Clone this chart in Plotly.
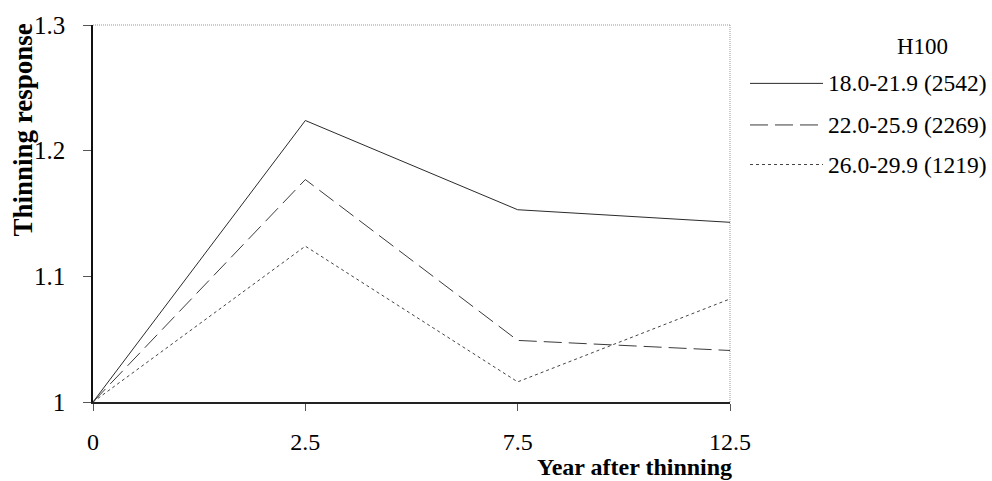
import plotly.graph_objects as go

# Years after thinning (plotted as evenly spaced categories)
years = ["0", "2.5", "7.5", "12.5"]

# Thinning response by dominant height class H100 (number of plots)
series_names = ["18.0-21.9 (2542)", "22.0-25.9 (2269)", "26.0-29.9 (1219)"]
h18_22 = [1.0, 1.224, 1.153, 1.143]
h22_26 = [1.0, 1.177, 1.049, 1.041]
h26_30 = [1.0, 1.124, 1.016, 1.082]

y_ticks = [1.0, 1.1, 1.2, 1.3]
y_tick_labels = ["1", "1.1", "1.2", "1.3"]

series = [h18_22, h22_26, h26_30]
dashes = ["solid", "18px,7px", "3px,3px"]
colors = ["#2a2a2a", "#3a3a3a", "#444444"]

FONT = "Liberation Serif"

fig = go.Figure()
for name, vals, dash, col in zip(series_names, series, dashes, colors):
    fig.add_trace(go.Scatter(
        x=years, y=vals, mode="lines", name=name,
        line=dict(color=col, width=1, dash=dash),
        showlegend=False,
    ))

fig.update_layout(
    width=992, height=481,
    margin=dict(l=93, r=262, t=21, b=79),
    paper_bgcolor="white", plot_bgcolor="white",
    font=dict(family=FONT, size=23, color="black"),
    xaxis=dict(
        type="category", range=[0, 3],
        showgrid=False, zeroline=False,
        showline=True, linecolor="#222", linewidth=1.5,
        ticks="outside", ticklen=7, tickcolor="#555", tickwidth=1,
        ticklabelstandoff=10,
        tickfont=dict(family=FONT, size=24),
    ),
    yaxis=dict(
        range=[1.0, 1.3],
        tickvals=y_ticks, ticktext=y_tick_labels,
        showgrid=False, zeroline=False,
        showline=True, linecolor="#111", linewidth=1.5,
        ticks="outside", ticklen=8, tickcolor="#555", tickwidth=1,
        ticklabelstandoff=13,
        tickfont=dict(family=FONT, size=25),
    ),
)

# Dotted frame on top and right
fig.add_shape(type="line", xref="paper", yref="paper", x0=0, x1=1, y0=1, y1=1,
              line=dict(color="#999", width=1, dash="1px,1px"))
fig.add_shape(type="line", xref="paper", yref="paper", x0=1, x1=1, y0=0, y1=1,
              line=dict(color="#999", width=1, dash="1px,1px"))


def px_x(px):
    return (px - 93) / 637


def px_y(py):
    return (402 - py) / 381


# Axis titles
fig.add_annotation(text="<b>Thinning response</b>", xref="paper", yref="paper",
                   x=px_x(23), y=px_y(18), xanchor="center", yanchor="top",
                   textangle=-90, showarrow=False,
                   font=dict(family=FONT, size=27))
fig.add_annotation(text="<b>Year after thinning</b>", xref="paper", yref="paper",
                   x=px_x(634), y=px_y(468), xanchor="center",
                   yanchor="middle", showarrow=False, borderpad=0,
                   font=dict(family=FONT, size=24))

# Legend drawn beside the plot
fig.add_annotation(text="H100", xref="paper", yref="paper",
                   x=px_x(922), y=px_y(43), xanchor="center", yanchor="middle",
                   showarrow=False, font=dict(family=FONT, size=23))
row_y = [80, 122, 162]
for name, dash, col, ry in zip(series_names, dashes, colors, row_y):
    fig.add_shape(type="line", xref="paper", yref="paper",
                  x0=px_x(750), x1=px_x(823), y0=px_y(ry), y1=px_y(ry),
                  line=dict(color=col, width=1, dash=dash))
    fig.add_annotation(text=name, xref="paper", yref="paper",
                       x=px_x(826), y=px_y(ry), xanchor="left", yanchor="middle",
                       showarrow=False, font=dict(family=FONT, size=23.5))

fig.write_html("out.html")
